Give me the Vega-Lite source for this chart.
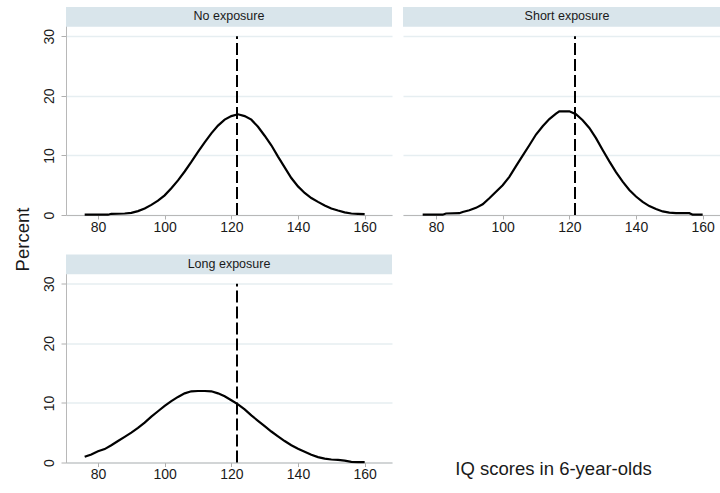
{
  "$schema": "https://vega.github.io/schema/vega-lite/v6.json",
  "padding": {"left": 13, "top": 7, "right": 0, "bottom": 0},
  "background": "white",
  "config": {
    "view": {"stroke": null},
    "font": "Liberation Sans",
    "axis": {"labelFont": "Liberation Sans", "labelColor": "#1a1a1a", "titleColor": "#1a1a1a", "labelFontSize": 14, "tickColor": "#b0b0b0", "domainColor": "#b8b8b8", "gridColor": "#e6eef1", "gridWidth": 1.3, "titleFontWeight": "normal"}
  },
  "datasets": {
    "one": [{"ref": 121.7}],
    "curves": [
      {"g":"No exposure","iq":76,"pct":0.05},{"g":"No exposure","iq":80,"pct":0.05},{"g":"No exposure","iq":83,"pct":0.05},{"g":"No exposure","iq":84,"pct":0.2},{"g":"No exposure","iq":88,"pct":0.25},{"g":"No exposure","iq":90,"pct":0.35},{"g":"No exposure","iq":92,"pct":0.65},{"g":"No exposure","iq":94,"pct":1.1},{"g":"No exposure","iq":96,"pct":1.7},{"g":"No exposure","iq":98,"pct":2.4},{"g":"No exposure","iq":100,"pct":3.3},{"g":"No exposure","iq":102,"pct":4.5},{"g":"No exposure","iq":104,"pct":5.8},{"g":"No exposure","iq":106,"pct":7.3},{"g":"No exposure","iq":108,"pct":8.9},{"g":"No exposure","iq":110,"pct":10.6},{"g":"No exposure","iq":112,"pct":12.2},{"g":"No exposure","iq":114,"pct":13.7},{"g":"No exposure","iq":116,"pct":15.0},{"g":"No exposure","iq":118,"pct":16.0},{"g":"No exposure","iq":120,"pct":16.6},{"g":"No exposure","iq":122,"pct":16.9},{"g":"No exposure","iq":124,"pct":16.6},{"g":"No exposure","iq":126,"pct":16.0},{"g":"No exposure","iq":128,"pct":14.8},{"g":"No exposure","iq":130,"pct":13.3},{"g":"No exposure","iq":132,"pct":11.7},{"g":"No exposure","iq":134,"pct":9.8},{"g":"No exposure","iq":136,"pct":8.0},{"g":"No exposure","iq":138,"pct":6.2},{"g":"No exposure","iq":140,"pct":4.8},{"g":"No exposure","iq":142,"pct":3.7},{"g":"No exposure","iq":144,"pct":2.85},{"g":"No exposure","iq":146,"pct":2.2},{"g":"No exposure","iq":148,"pct":1.6},{"g":"No exposure","iq":150,"pct":1.1},{"g":"No exposure","iq":152,"pct":0.75},{"g":"No exposure","iq":154,"pct":0.45},{"g":"No exposure","iq":156,"pct":0.25},{"g":"No exposure","iq":158,"pct":0.2},{"g":"No exposure","iq":160,"pct":0.15},
      {"g":"Short exposure","iq":76,"pct":0.05},{"g":"Short exposure","iq":82,"pct":0.05},{"g":"Short exposure","iq":83,"pct":0.25},{"g":"Short exposure","iq":87,"pct":0.3},{"g":"Short exposure","iq":88,"pct":0.5},{"g":"Short exposure","iq":90,"pct":0.8},{"g":"Short exposure","iq":92,"pct":1.2},{"g":"Short exposure","iq":94,"pct":1.8},{"g":"Short exposure","iq":96,"pct":2.8},{"g":"Short exposure","iq":98,"pct":3.9},{"g":"Short exposure","iq":100,"pct":5.0},{"g":"Short exposure","iq":102,"pct":6.4},{"g":"Short exposure","iq":104,"pct":8.2},{"g":"Short exposure","iq":106,"pct":9.95},{"g":"Short exposure","iq":108,"pct":11.7},{"g":"Short exposure","iq":110,"pct":13.5},{"g":"Short exposure","iq":112,"pct":14.9},{"g":"Short exposure","iq":114,"pct":16.1},{"g":"Short exposure","iq":116,"pct":17.0},{"g":"Short exposure","iq":117,"pct":17.4},{"g":"Short exposure","iq":120,"pct":17.4},{"g":"Short exposure","iq":122,"pct":16.9},{"g":"Short exposure","iq":124,"pct":15.9},{"g":"Short exposure","iq":126,"pct":14.6},{"g":"Short exposure","iq":128,"pct":12.9},{"g":"Short exposure","iq":130,"pct":10.9},{"g":"Short exposure","iq":132,"pct":9.0},{"g":"Short exposure","iq":134,"pct":7.2},{"g":"Short exposure","iq":136,"pct":5.6},{"g":"Short exposure","iq":138,"pct":4.2},{"g":"Short exposure","iq":140,"pct":3.1},{"g":"Short exposure","iq":142,"pct":2.2},{"g":"Short exposure","iq":144,"pct":1.5},{"g":"Short exposure","iq":146,"pct":1.0},{"g":"Short exposure","iq":148,"pct":0.6},{"g":"Short exposure","iq":150,"pct":0.4},{"g":"Short exposure","iq":152,"pct":0.3},{"g":"Short exposure","iq":156,"pct":0.3},{"g":"Short exposure","iq":157,"pct":0.05},{"g":"Short exposure","iq":160,"pct":0.05},
      {"g":"Long exposure","iq":76,"pct":0.95},{"g":"Long exposure","iq":78,"pct":1.35},{"g":"Long exposure","iq":80,"pct":1.9},{"g":"Long exposure","iq":82,"pct":2.25},{"g":"Long exposure","iq":84,"pct":2.9},{"g":"Long exposure","iq":86,"pct":3.6},{"g":"Long exposure","iq":88,"pct":4.3},{"g":"Long exposure","iq":90,"pct":5.0},{"g":"Long exposure","iq":92,"pct":5.8},{"g":"Long exposure","iq":94,"pct":6.7},{"g":"Long exposure","iq":96,"pct":7.7},{"g":"Long exposure","iq":98,"pct":8.6},{"g":"Long exposure","iq":100,"pct":9.5},{"g":"Long exposure","iq":102,"pct":10.3},{"g":"Long exposure","iq":104,"pct":11.0},{"g":"Long exposure","iq":106,"pct":11.6},{"g":"Long exposure","iq":108,"pct":11.95},{"g":"Long exposure","iq":110,"pct":12.0},{"g":"Long exposure","iq":112,"pct":12.0},{"g":"Long exposure","iq":114,"pct":11.95},{"g":"Long exposure","iq":116,"pct":11.6},{"g":"Long exposure","iq":118,"pct":11.1},{"g":"Long exposure","iq":120,"pct":10.45},{"g":"Long exposure","iq":122,"pct":9.75},{"g":"Long exposure","iq":124,"pct":8.9},{"g":"Long exposure","iq":126,"pct":7.9},{"g":"Long exposure","iq":128,"pct":7.0},{"g":"Long exposure","iq":130,"pct":6.1},{"g":"Long exposure","iq":132,"pct":5.2},{"g":"Long exposure","iq":134,"pct":4.4},{"g":"Long exposure","iq":136,"pct":3.6},{"g":"Long exposure","iq":138,"pct":2.9},{"g":"Long exposure","iq":140,"pct":2.3},{"g":"Long exposure","iq":142,"pct":1.8},{"g":"Long exposure","iq":144,"pct":1.3},{"g":"Long exposure","iq":146,"pct":0.9},{"g":"Long exposure","iq":148,"pct":0.65},{"g":"Long exposure","iq":150,"pct":0.5},{"g":"Long exposure","iq":152,"pct":0.45},{"g":"Long exposure","iq":154,"pct":0.3},{"g":"Long exposure","iq":156,"pct":0.1},{"g":"Long exposure","iq":158,"pct":0.05},{"g":"Long exposure","iq":160,"pct":0.05}
    ]
  },
  "columns": 2,
  "bounds": "flush",
  "spacing": {"row": 39.5, "column": 11},
  "concat": [
    {
      "width": 326, "height": 208,
      "layer": [
        {"data": {"name": "one"}, "mark": {"type": "rect", "fill": "#d9e5eb"}, "encoding": {"x": {"datum": 70.4}, "x2": {"datum": 168.2}, "y": {"datum": 31.6}, "y2": {"datum": 34.9}}},
        {"data": {"name": "one"}, "mark": {"type": "text", "fontSize": 12.5, "color": "#1a1a1a", "baseline": "middle"}, "encoding": {"x": {"datum": 119.3}, "y": {"datum": 33.35}, "text": {"value": "No exposure"}}},
        {"data": {"name": "curves"}, "transform": [{"filter": "datum.g === 'No exposure'"}],
         "mark": {"type": "line", "color": "black", "strokeWidth": 2.2},
         "encoding": {
           "x": {"field": "iq", "type": "quantitative", "scale": {"domain": [70.4, 168.2], "nice": false, "zero": false}, "axis": {"values": [80,100,120,140,160], "grid": false, "tickSize": 4, "labelPadding": 1, "title": null}},
           "y": {"field": "pct", "type": "quantitative", "scale": {"domain": [0, 34.9], "nice": false}, "axis": {"values": [0,10,20,30], "grid": true, "labelAngle": 270, "tickSize": 5, "labelPadding": 5, "title": "Percent", "titleFontSize": 18.5, "titleAngle": 270, "titleBaseline": "top", "titleAlign": "center", "titleX": -53, "titleY": 232}}
         }},
        {"data": {"name": "one"}, "mark": {"type": "rule", "color": "black", "strokeWidth": 2, "strokeDash": [12, 4]}, "encoding": {"x": {"field": "ref", "type": "quantitative"}, "y": {"datum": 0}, "y2": {"datum": 30}}}
      ]
    },
    {
      "width": 318, "height": 208,
      "layer": [
        {"data": {"name": "one"}, "mark": {"type": "rect", "fill": "#d9e5eb"}, "encoding": {"x": {"datum": 70.1}, "x2": {"datum": 165.5}, "y": {"datum": 31.6}, "y2": {"datum": 34.9}}},
        {"data": {"name": "one"}, "mark": {"type": "text", "fontSize": 12.5, "color": "#1a1a1a", "baseline": "middle"}, "encoding": {"x": {"datum": 119.3}, "y": {"datum": 33.35}, "text": {"value": "Short exposure"}}},
        {"data": {"name": "curves"}, "transform": [{"filter": "datum.g === 'Short exposure'"}],
         "mark": {"type": "line", "color": "black", "strokeWidth": 2.2},
         "encoding": {
           "x": {"field": "iq", "type": "quantitative", "scale": {"domain": [70.1, 165.5], "nice": false, "zero": false}, "axis": {"values": [80,100,120,140,160], "grid": false, "tickSize": 4, "labelPadding": 1, "title": "IQ scores in 6-year-olds", "titleFontSize": 18.5, "titleBaseline": "alphabetic", "titleAlign": "center", "titleX": 150, "titleY": 259}},
           "y": {"field": "pct", "type": "quantitative", "scale": {"domain": [0, 34.9], "nice": false}, "axis": {"values": [0,10,20,30], "grid": true, "labels": false, "ticks": false, "domain": false, "title": null}}
         }},
        {"data": {"name": "one"}, "mark": {"type": "rule", "color": "black", "strokeWidth": 2, "strokeDash": [12, 4]}, "encoding": {"x": {"field": "ref", "type": "quantitative"}, "y": {"datum": 0}, "y2": {"datum": 30}}}
      ]
    },
    {
      "width": 326, "height": 208,
      "layer": [
        {"data": {"name": "one"}, "mark": {"type": "rect", "fill": "#d9e5eb"}, "encoding": {"x": {"datum": 70.4}, "x2": {"datum": 168.2}, "y": {"datum": 31.6}, "y2": {"datum": 34.9}}},
        {"data": {"name": "one"}, "mark": {"type": "text", "fontSize": 12.5, "color": "#1a1a1a", "baseline": "middle"}, "encoding": {"x": {"datum": 119.3}, "y": {"datum": 33.35}, "text": {"value": "Long exposure"}}},
        {"data": {"name": "curves"}, "transform": [{"filter": "datum.g === 'Long exposure'"}],
         "mark": {"type": "line", "color": "black", "strokeWidth": 2.2},
         "encoding": {
           "x": {"field": "iq", "type": "quantitative", "scale": {"domain": [70.4, 168.2], "nice": false, "zero": false}, "axis": {"values": [80,100,120,140,160], "grid": false, "tickSize": 4, "labelPadding": 1, "title": null}},
           "y": {"field": "pct", "type": "quantitative", "scale": {"domain": [0, 34.9], "nice": false}, "axis": {"values": [0,10,20,30], "grid": true, "labelAngle": 270, "tickSize": 5, "labelPadding": 5, "title": null}}
         }},
        {"data": {"name": "one"}, "mark": {"type": "rule", "color": "black", "strokeWidth": 2, "strokeDash": [12, 4]}, "encoding": {"x": {"field": "ref", "type": "quantitative"}, "y": {"datum": 0}, "y2": {"datum": 30}}}
      ]
    }
  ]
}
